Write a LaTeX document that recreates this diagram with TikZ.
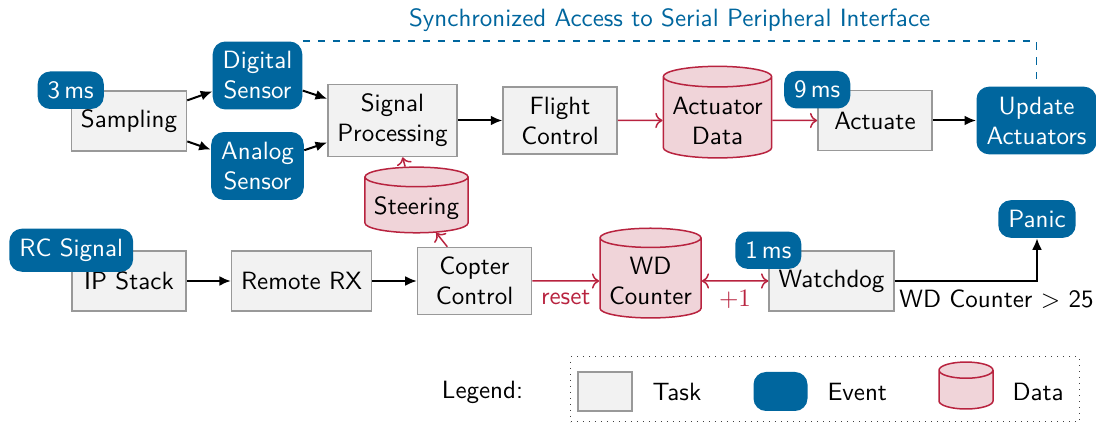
\documentclass[tikz,border=0pt]{standalone}
\usetikzlibrary{shapes.geometric,arrows.meta}
\definecolor{evblue}{HTML}{00669E}
\definecolor{datared}{HTML}{B8233F}
\definecolor{datafill}{HTML}{F0D4D9}
\definecolor{taskfill}{HTML}{F2F2F2}
\definecolor{taskdraw}{HTML}{999999}
\tikzset{
  task/.style={rectangle, draw=taskdraw, fill=taskfill, line width=0.6pt,
    minimum width=45.6pt, minimum height=24pt, inner sep=3.8pt, align=center},
  event/.style={rectangle, rounded corners=5pt, fill=evblue, text=white,
    inner sep=4pt, align=center},
  data/.style={cylinder, shape border rotate=90, aspect=0.19, draw=datared,
    fill=datafill, line width=0.6pt, inner sep=3.6pt, align=center},
  flow/.style={-{Latex[length=4.6pt,width=4pt]}, line width=0.8pt},
  dflow/.style={->, datared, line width=0.6pt},
}
\begin{document}
\begin{tikzpicture}[x=0.4pt, y=-0.4pt, font=\sffamily]
\useasboundingbox (0,0) rectangle (1096,425);

% upper chain: sampling to actuators
\node[task] (sampling) at (129,121) {Sampling};
\node[event] (t3) at (sampling.north west) {3\,ms};
\node[event] (digital) at (257.5,75.5) {Digital\\Sensor};
\node[event] (analog) at (257.5,166) {Analog\\Sensor};
\node[task] (signal) at (392.5,120.5) {Signal\\Processing};
\node[task] (flight) at (560,120.5) {Flight\\Control};
\node[data] (actdata) at (717.5,120.5) {Actuator\\Data};
\node[task] (actuate) at (875,120.5) {Actuate};
\node[event] (t9) at (actuate.north west) {9\,ms};
\node[event] (update) at (1036.5,120.5) {Update\\Actuators};
\node[data] (steering) at (416.5,208) {Steering};

% lower chain: remote control and watchdog
\node[task] (ipstack) at (129,281) {IP Stack};
\node[event] (rc) at (ipstack.north west) {RC Signal};
\node[task] (remote) at (301.5,281) {Remote RX};
\node[task] (copter) at (474.5,281) {Copter\\Control};
\node[data] (wdc) at (650.5,281) {WD\\Counter};
\node[task] (watchdog) at (831.5,281) {Watchdog};
\node[event] (t1) at (watchdog.north west) {1\,ms};
\node[event] (panic) at (1037,219) {Panic};

% connectors
\draw[flow] (sampling) -- (digital);
\draw[flow] (sampling) -- (analog);
\draw[flow] (digital) -- (signal);
\draw[flow] (analog) -- (signal);
\draw[flow] (signal) -- (flight);
\draw[dflow] (flight) -- (actdata);
\draw[dflow] (actdata) -- (actuate);
\draw[flow] (actuate) -- (update);
\draw[dflow] (steering) -- (signal);
\draw[dflow] (copter) -- (steering);
\draw[flow] (ipstack) -- (remote);
\draw[flow] (remote) -- (copter);
\draw[dflow] (copter) -- node[below, text=datared] {reset} (wdc);
\draw[dflow, <->] (wdc) -- node[below, text=datared] {$+1$} (watchdog);
\draw[flow] (watchdog.east) -| node[pos=0, anchor=north west, inner xsep=1.5pt] {WD Counter $>$ 25} (panic.south);

% shared bus
\draw[evblue, dashed, line width=0.6pt, shorten >=2.8pt] (digital.north east) -|
  node[pos=0.25, above, text=evblue] {Synchronized Access to Serial Peripheral Interface}
  (update.north);

% legend
\node (legend) at (482.5,392) {Legend:};
\node[draw=black!75, dotted, line width=0.4pt, minimum width=203.2pt, minimum height=26pt, inner sep=0pt] (legendbox) at (825,389.5) {};
\node[task, minimum width=21.6pt, minimum height=15.6pt, inner sep=0pt] (ltask) at (605,391.5) {};
\node[anchor=west, inner sep=0pt] (ltasktxt) at (652,392) {Task};
\node[event, minimum width=21.6pt, minimum height=15.6pt, inner sep=0pt] (levent) at (780.5,391.5) {};
\node[anchor=west, inner sep=0pt] (leventtxt) at (827,392) {Event};
\node[data, aspect=0.3, inner xsep=10.8pt, inner ysep=6pt] (ldata) at (966,394) {};
\node[anchor=west, inner sep=0pt] (ldatatxt) at (1012,392) {Data};
\end{tikzpicture}
\end{document}
